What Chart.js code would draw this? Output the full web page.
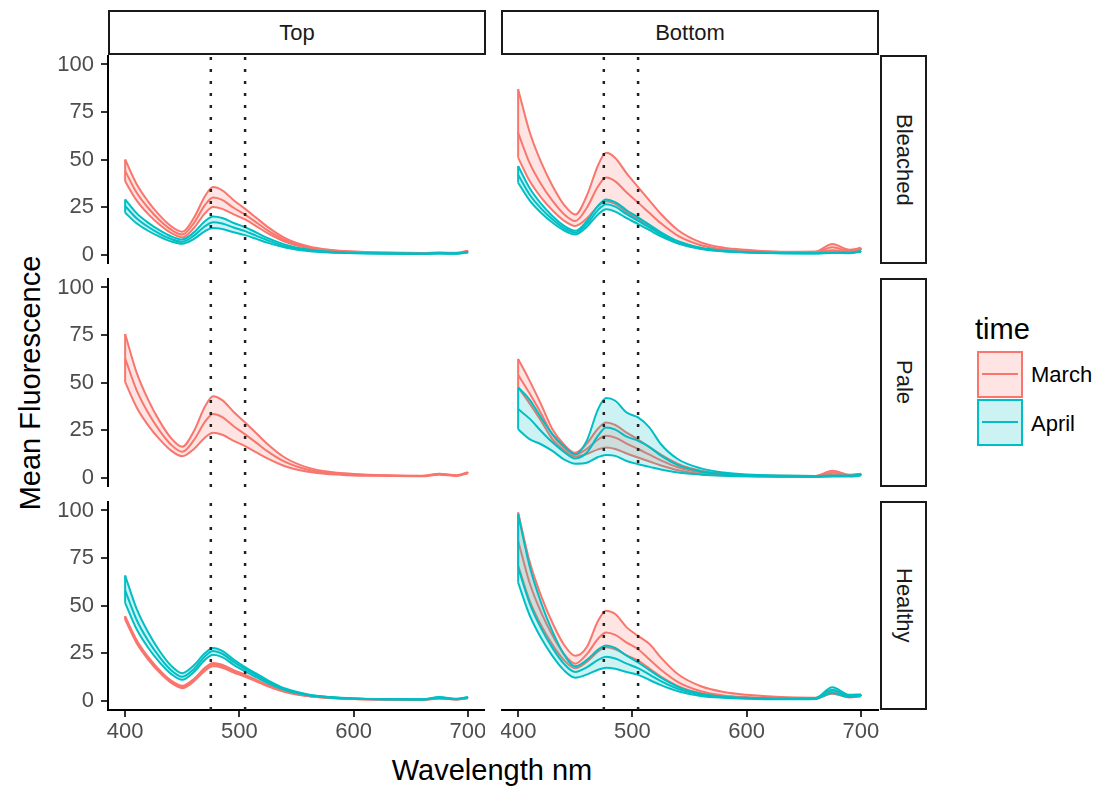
<!DOCTYPE html>
<html>
<head>
<meta charset="utf-8">
<script src="https://cdn.jsdelivr.net/npm/chart.js@4.4.1/dist/chart.umd.min.js"></script>
<style>
  body { margin: 0; background: #fff; }
  #wrap { position: relative; width: 1104px; height: 786px; overflow: hidden;
          font-family: 'Liberation Sans', Arial, Helvetica, sans-serif; }
  #wrap canvas { position: absolute; }
  .strip { position: absolute; box-sizing: border-box; border: 2px solid #1a1a1a; background: #fff;
           color: #1a1a1a; font-size: 22px; display: flex; align-items: center; justify-content: center; }
  .side { writing-mode: vertical-rl; }
  .txt { position: absolute; white-space: nowrap; color: #000; }
  .key { position: absolute; box-sizing: border-box; width: 46px; height: 47px; border: 2px solid; }
  .key::after { content: ''; position: absolute; left: 3px; right: 3px; top: 19.5px; height: 2px; background: currentColor; }
</style>
</head>
<body>
<div id="wrap">
  <div class="strip" style="left:108px;top:10px;width:378px;height:45px">Top</div>
  <div class="strip" style="left:501px;top:10px;width:378px;height:45px">Bottom</div>
  <div class="strip side" style="left:880px;top:55px;width:47px;height:209px">Bleached</div>
  <div class="strip side" style="left:880px;top:278px;width:47px;height:209px">Pale</div>
  <div class="strip side" style="left:880px;top:501px;width:47px;height:209px">Healthy</div>
  <div class="txt" style="left:30px;top:383px;font-size:29px;transform:translate(-50%,-50%) rotate(-90deg)">Mean Fluorescence</div>
  <div class="txt" style="left:492px;top:770px;font-size:29px;transform:translate(-50%,-50%)">Wavelength nm</div>
  <div class="txt" style="left:975px;top:329px;font-size:29px;transform:translateY(-50%)">time</div>
  <div class="key" style="left:977px;top:351px;color:#F8766D;border-color:#F8766D;background:rgba(248,118,109,0.2)"></div>
  <div class="key" style="left:977px;top:399px;color:#00BFC4;border-color:#00BFC4;background:rgba(0,191,196,0.2)"></div>
  <div class="txt" style="left:1031px;top:375px;font-size:22px;transform:translateY(-50%)">March</div>
  <div class="txt" style="left:1031px;top:424px;font-size:22px;transform:translateY(-50%)">April</div>
</div>
<script>
// wavelengths (nm) the spectra were read at
const wavelength = [400, 410, 420, 430, 440, 450, 460, 470, 477, 485, 495, 505, 515, 525, 540, 560, 580, 600, 630, 660, 675, 690, 700];
const xTicks = [400, 500, 600, 700];
const yTicks = [0, 25, 50, 75, 100];
const guideLines = [475, 505];

// Top / Bleached
const topBleachedMarchHigh = [50, 37.1, 28.0, 20.7, 15.0, 12, 19.1, 30.8, 35.5, 33.8, 28.6, 24, 19.2, 14.4, 8.6, 4.3, 2.4, 1.6, 1.0, 0.8, 1.0, 0.9, 2.0];
const topBleachedMarchMean = [44, 32.6, 24.6, 18.2, 13.2, 10.5, 16.4, 26.1, 30, 28.7, 24.6, 21, 16.8, 12.6, 7.6, 3.8, 2.1, 1.4, 0.9, 0.7, 0.9, 0.8, 1.7];
const topBleachedMarchLow = [38.5, 28.5, 21.4, 15.8, 11.4, 9, 13.8, 21.8, 25, 24.0, 21.1, 18.5, 14.8, 11.1, 6.7, 3.3, 1.9, 1.2, 0.8, 0.6, 0.8, 0.7, 1.5];
const topBleachedAprilHigh = [29, 21.8, 16.8, 12.8, 9.6, 7.9, 11.5, 17.6, 20, 19.2, 16.6, 14.4, 11.5, 8.6, 5.2, 2.6, 1.4, 0.9, 0.6, 0.5, 0.7, 0.6, 1.4];
const topBleachedAprilMean = [25.5, 19.1, 14.6, 11.0, 8.2, 6.7, 9.8, 14.9, 17, 16.3, 14.2, 12.3, 9.8, 7.4, 4.4, 2.2, 1.2, 0.8, 0.5, 0.4, 0.6, 0.5, 1.2];
const topBleachedAprilLow = [22, 16.4, 12.5, 9.4, 6.9, 5.6, 8.1, 12.3, 14, 13.4, 11.7, 10.2, 8.2, 6.1, 3.7, 1.8, 1.0, 0.7, 0.4, 0.3, 0.5, 0.4, 1.0];

// Bottom / Bleached
const bottomBleachedMarchHigh = [87, 64.6, 48.7, 36.2, 26.3, 21, 30.8, 47, 53.5, 50.8, 42.7, 35.5, 28.4, 21.3, 12.8, 6.4, 3.6, 2.5, 1.5, 1.6, 5.5, 2.5, 3.5];
const bottomBleachedMarchMean = [64, 48.2, 37.1, 28.3, 21.3, 17.6, 24.5, 35.9, 40.5, 38.5, 32.6, 27.3, 21.8, 16.4, 9.8, 4.9, 2.7, 1.8, 1.1, 1.2, 3.8, 1.8, 2.8];
const bottomBleachedMarchLow = [51, 38.8, 30.1, 23.3, 17.9, 15, 18.9, 25.4, 28, 26.6, 22.3, 18.5, 14.8, 11.1, 6.7, 3.3, 1.9, 1.2, 0.8, 0.9, 2.2, 1.2, 2.2];
const bottomBleachedAprilHigh = [46.6, 35.0, 26.8, 20.3, 15.2, 12.5, 17.5, 25.7, 29, 27.6, 23.3, 19.5, 15.6, 11.7, 7.0, 3.5, 2.0, 1.3, 0.8, 0.7, 1.2, 0.9, 1.8];
const bottomBleachedAprilMean = [42, 31.6, 24.3, 18.5, 13.9, 11.5, 16, 23.5, 26.5, 25.2, 21.2, 17.7, 14.2, 10.6, 6.4, 3.2, 1.8, 1.2, 0.7, 0.6, 1.0, 0.8, 1.6];
const bottomBleachedAprilLow = [37.8, 28.5, 22.0, 16.8, 12.7, 10.5, 14.5, 21.1, 23.8, 22.6, 19.1, 16, 12.8, 9.6, 5.8, 2.9, 1.6, 1.0, 0.6, 0.5, 0.8, 0.7, 1.4];

// Top / Pale (March only)
const topPaleMarchHigh = [75.5, 55.3, 41.1, 29.8, 20.9, 16.2, 24.2, 37.5, 42.8, 40.7, 34.5, 29, 23.2, 17.4, 10.4, 5.2, 2.9, 1.9, 1.2, 0.9, 2.0, 1.2, 2.8];
const topPaleMarchMean = [62.7, 46.0, 34.2, 24.8, 17.4, 13.5, 19.5, 29.4, 33.4, 31.8, 27.0, 22.7, 18.2, 13.6, 8.2, 4.1, 2.3, 1.5, 1.0, 0.8, 1.8, 1.0, 2.5];
const topPaleMarchLow = [50.3, 37.0, 27.6, 20.2, 14.3, 11.2, 14.9, 21.1, 23.6, 22.5, 19.3, 16.5, 13.2, 9.9, 5.9, 3.0, 1.7, 1.1, 0.8, 0.6, 1.5, 0.8, 2.2];

// Bottom / Pale
const bottomPaleMarchHigh = [62.4, 51, 38.6, 25.4, 17.5, 13, 17.8, 25.8, 29, 27.7, 23.6, 20, 16, 12, 7.2, 3.6, 2.0, 1.3, 0.9, 0.8, 3.5, 1.5, 2.0];
const bottomPaleMarchMean = [54, 44.3, 33.8, 22.5, 15.8, 12, 15, 20, 22, 21, 17.8, 15, 12, 9, 5.4, 2.7, 1.5, 1.0, 0.7, 0.6, 2.5, 1.2, 1.7];
const bottomPaleMarchLow = [47.4, 39, 29.9, 20.1, 14.3, 11, 12.4, 14.8, 15.8, 15.0, 12.6, 10.5, 8.4, 6.3, 3.8, 1.9, 1.1, 0.7, 0.5, 0.4, 1.5, 0.8, 1.4];
const bottomPaleAprilHigh = [47.4, 41, 31.6, 22.8, 16.6, 12.2, 19.3, 36, 41.8, 40.4, 34.2, 31.6, 26.3, 17.5, 9.6, 4.8, 2.6, 1.6, 1.0, 0.8, 1.0, 1.0, 1.8];
const bottomPaleAprilMean = [36, 31, 24.5, 18.5, 13.5, 10, 13, 22, 26.3, 25.2, 21.5, 19.3, 16, 11.5, 6.5, 3.2, 1.8, 1.1, 0.7, 0.6, 0.8, 0.8, 1.5];
const bottomPaleAprilLow = [25.4, 20.2, 17.5, 14, 9.6, 7.3, 7.8, 10.8, 11.9, 11.4, 8.7, 7, 5.6, 4.2, 2.6, 1.5, 0.9, 0.6, 0.4, 0.3, 0.5, 0.5, 1.0];

// Top / Healthy
const topHealthyMarchHigh = [44.4, 31.9, 23.1, 16.1, 10.6, 7.7, 11.3, 17.3, 19.7, 18.8, 16.0, 13.6, 10.9, 8.2, 4.9, 2.4, 1.4, 0.9, 0.5, 0.4, 1.2, 0.6, 1.4];
const topHealthyMarchMean = [43.5, 31.1, 22.4, 15.5, 10.0, 7.1, 10.6, 16.5, 18.9, 18.0, 15.4, 13.1, 10.5, 7.9, 4.7, 2.4, 1.3, 0.8, 0.5, 0.4, 1.1, 0.6, 1.3];
const topHealthyMarchLow = [42.6, 30.3, 21.7, 14.8, 9.4, 6.5, 10.0, 15.7, 18, 17.2, 14.7, 12.5, 10, 7.5, 4.5, 2.3, 1.3, 0.8, 0.5, 0.4, 1.0, 0.5, 1.2];
const topHealthyAprilHigh = [65.8, 48.3, 36.0, 26.2, 18.5, 14.4, 18.4, 25, 27.6, 26.1, 21.6, 17.6, 14.1, 10.6, 6.3, 3.2, 1.8, 1.1, 0.7, 0.6, 1.8, 0.9, 1.8];
const topHealthyAprilMean = [58, 42.5, 31.6, 23.0, 16.1, 12.5, 16.5, 23.3, 26, 24.6, 20.3, 16.5, 13.2, 9.9, 5.9, 3.0, 1.7, 1.0, 0.6, 0.5, 1.6, 0.8, 1.6];
const topHealthyAprilLow = [51.4, 37.6, 27.9, 20.2, 14.1, 10.9, 14.9, 21.5, 24.1, 22.8, 18.8, 15.3, 12.2, 9.2, 5.5, 2.8, 1.5, 1.0, 0.6, 0.5, 1.4, 0.7, 1.5];

// Bottom / Healthy
const bottomHealthyMarchHigh = [99, 73.3, 55.2, 40.9, 29.5, 23.5, 28, 42, 47.3, 45.5, 38.5, 34, 29.7, 22.6, 13.8, 7.5, 4.5, 3.0, 1.8, 1.5, 5.5, 2.5, 3.0];
const bottomHealthyMarchMean = [84, 62.0, 46.5, 34.3, 24.6, 19.4, 24.3, 32.5, 35.8, 34.5, 30.5, 27, 21.6, 16.2, 9.7, 4.9, 2.7, 1.8, 1.1, 1.1, 4.5, 2.0, 2.6];
const bottomHealthyMarchLow = [71, 52.6, 39.7, 29.4, 21.3, 17, 20.3, 25.8, 28, 27, 23.8, 21, 16.8, 12.6, 7.6, 3.8, 2.1, 1.4, 0.9, 0.9, 3.5, 1.6, 2.2];
const bottomHealthyAprilHigh = [98, 70.8, 51.6, 36.4, 24.4, 18, 21.3, 26.8, 29, 27.7, 23.6, 20, 16, 12, 7.2, 3.6, 2.0, 1.4, 1.0, 1.2, 7.0, 3.0, 3.2];
const bottomHealthyAprilMean = [70, 51.3, 38.1, 27.7, 19.4, 15, 17.4, 21.4, 23, 22.1, 19.4, 17, 13.6, 10.2, 6.1, 3.1, 1.7, 1.2, 0.8, 1.0, 5.5, 2.4, 2.8];
const bottomHealthyAprilLow = [62, 45, 33, 23.5, 16, 12, 13.6, 16.2, 17.3, 16.7, 15.0, 13.5, 10.8, 8.1, 4.9, 2.4, 1.4, 0.9, 0.6, 0.8, 4.0, 1.8, 2.4];

const panels = [
  { row: 0, col: 0, March: [topBleachedMarchLow, topBleachedMarchMean, topBleachedMarchHigh], April: [topBleachedAprilLow, topBleachedAprilMean, topBleachedAprilHigh] },
  { row: 0, col: 1, March: [bottomBleachedMarchLow, bottomBleachedMarchMean, bottomBleachedMarchHigh], April: [bottomBleachedAprilLow, bottomBleachedAprilMean, bottomBleachedAprilHigh] },
  { row: 1, col: 0, March: [topPaleMarchLow, topPaleMarchMean, topPaleMarchHigh], April: null },
  { row: 1, col: 1, March: [bottomPaleMarchLow, bottomPaleMarchMean, bottomPaleMarchHigh], April: [bottomPaleAprilLow, bottomPaleAprilMean, bottomPaleAprilHigh] },
  { row: 2, col: 0, March: [topHealthyMarchLow, topHealthyMarchMean, topHealthyMarchHigh], April: [topHealthyAprilLow, topHealthyAprilMean, topHealthyAprilHigh] },
  { row: 2, col: 1, March: [bottomHealthyMarchLow, bottomHealthyMarchMean, bottomHealthyMarchHigh], April: [bottomHealthyAprilLow, bottomHealthyAprilMean, bottomHealthyAprilHigh] }
];

const colours = {
  March: { line: '#F8766D', fill: 'rgba(248,118,109,0.2)' },
  April: { line: '#00BFC4', fill: 'rgba(0,191,196,0.2)' }
};
const yMin = -5, yMax = 105;

Chart.defaults.font.family = "'Liberation Sans', Arial, Helvetica, sans-serif";

function ribbon(time, set) {
  const c = colours[time];
  const pts = arr => wavelength.map((w, i) => ({ x: w, y: arr[i] }));
  const base = { borderColor: c.line, borderWidth: 2, pointRadius: 0, cubicInterpolationMode: 'monotone' };
  const last = wavelength.length - 1;
  // closing edges of the ribbon outline at both ends of the spectrum
  const edge = i => Object.assign({}, base, {
    data: [{ x: wavelength[i], y: set[0][i] }, { x: wavelength[i], y: set[2][i] }], fill: false
  });
  return [
    Object.assign({}, base, { data: pts(set[0]), fill: false }),
    Object.assign({}, base, { data: pts(set[2]), fill: '-1', backgroundColor: c.fill }),
    Object.assign({}, base, { data: pts(set[1]), fill: false }),
    edge(0),
    edge(last)
  ];
}

// first dataset is painted last, so the dotted guides go first
function guides() {
  return guideLines.map(g => ({
    data: [{ x: g, y: yMin }, { x: g, y: yMax }],
    borderColor: '#222', borderWidth: 2.5, borderDash: [3, 9], pointRadius: 0, fill: false
  }));
}

const rowTop = [55, 278, 501];
const wrap = document.getElementById('wrap');

panels.forEach(p => {
  const showY = p.col === 0;
  const showX = p.row === 2;
  const extraRight = (!showY && showX) ? 20 : 0; // room for the last "700" label
  const canvas = document.createElement('canvas');
  const left = showY ? 40 : 501;
  const width = (showY ? 445 : 377) + extraRight;
  const height = 209 + (showX ? 45 : 0);
  canvas.width = width;
  canvas.height = height;
  canvas.style.left = left + 'px';
  canvas.style.top = rowTop[p.row] + 'px';
  wrap.appendChild(canvas);

  let datasets = guides();
  if (p.April) datasets = datasets.concat(ribbon('April', p.April));
  datasets = datasets.concat(ribbon('March', p.March));

  new Chart(canvas, {
    type: 'line',
    data: { datasets: datasets },
    options: {
      responsive: false,
      animation: false,
      events: [],
      layout: { padding: { left: 0, top: 0, bottom: 0, right: extraRight } },
      plugins: { legend: { display: false }, tooltip: { enabled: false } },
      scales: {
        x: {
          type: 'linear', min: 385, max: 715, display: showX,
          afterBuildTicks: s => { s.ticks = xTicks.map(v => ({ value: v })); },
          afterFit: s => { s.height = showX ? 45 : 0; s.paddingLeft = 0; s.paddingRight = 0; },
          grid: { display: true, drawOnChartArea: false, drawTicks: true, tickLength: 7, color: '#333', lineWidth: 2 },
          border: { display: true, color: '#000', width: 2 },
          ticks: { color: '#4d4d4d', font: { size: 22 }, padding: 2, autoSkip: false, maxRotation: 0 }
        },
        y: {
          type: 'linear', min: yMin, max: yMax, display: showY,
          afterBuildTicks: s => { s.ticks = yTicks.map(v => ({ value: v })); },
          afterFit: s => { s.width = showY ? 68 : 0; s.paddingTop = 0; s.paddingBottom = 0; },
          grid: { display: true, drawOnChartArea: false, drawTicks: true, tickLength: 7, color: '#333', lineWidth: 2 },
          border: { display: true, color: '#000', width: 2 },
          ticks: { color: '#4d4d4d', font: { size: 22 }, padding: 7, autoSkip: false }
        }
      }
    }
  });
});
</script>
</body>
</html>
